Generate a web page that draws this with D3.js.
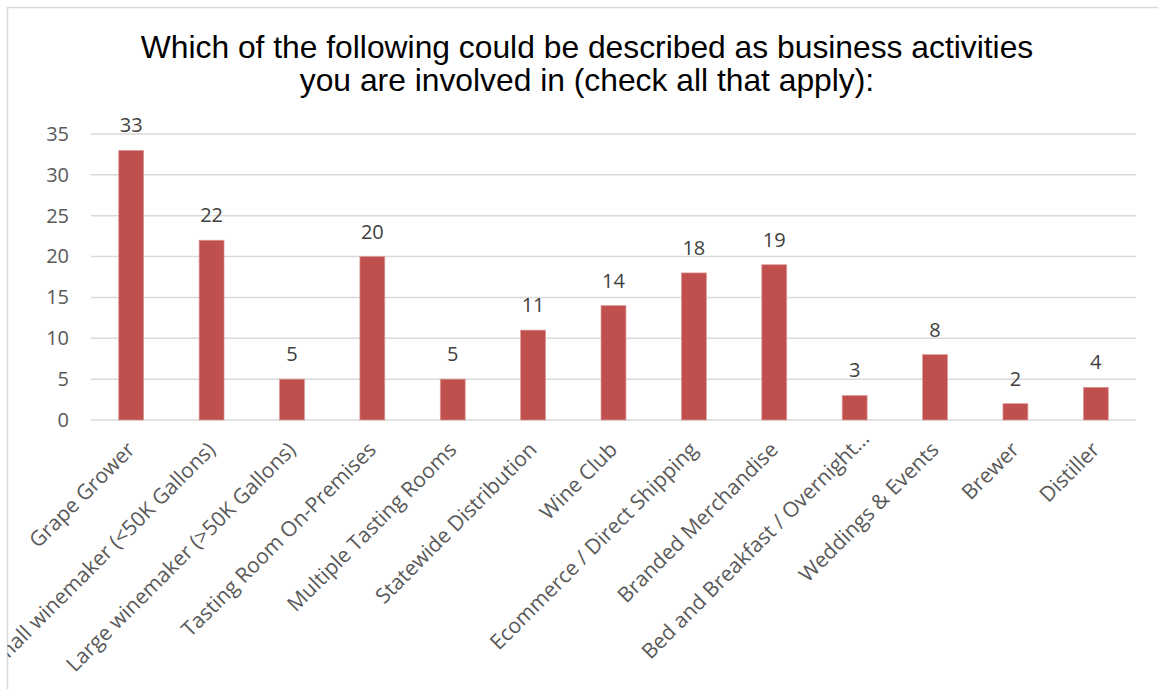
<html>
<head>
<script src="https://d3js.org/d3.v7.min.js"></script>
<style>
  body { margin: 0; background: #fff; }
</style>
</head>
<body>
<script>
// DATA
var categories = ["Grape Grower", "Small winemaker (<50K Gallons)", "Large winemaker (>50K Gallons)",
  "Tasting Room On-Premises", "Multiple Tasting Rooms", "Statewide Distribution", "Wine Club",
  "Ecommerce / Direct Shipping", "Branded Merchandise", "Bed and Breakfast / Overnight\u2026",
  "Weddings & Events", "Brewer", "Distiller"];
var counts = [33, 22, 5, 20, 5, 11, 14, 18, 19, 3, 8, 2, 4];
var yTicks = [0, 5, 10, 15, 20, 25, 30, 35];
var titleLines = ["Which of the following could be described as business activities",
  "you are involved in (check all that apply):"];

var W = 1158, H = 689;
var svg = d3.select("body").append("svg").attr("width", W).attr("height", H);

// chart frame, clipped like the original
svg.append("clipPath").attr("id", "frame")
  .append("rect").attr("x", 7.5).attr("y", 7.5).attr("width", W).attr("height", H);
svg.append("rect").attr("x", 7.5).attr("y", 7.5).attr("width", W).attr("height", H)
  .style("fill", "white").style("stroke", "#d9d9d9").style("stroke-width", 1.5);

var g = svg.append("g").attr("clip-path", "url(#frame)");

// title
g.selectAll("text.title").data(titleLines).enter().append("text")
  .attr("class", "title")
  .attr("x", 587).attr("y", function(d, i) { return 58 + i * 33; })
  .attr("text-anchor", "middle")
  .style("font-family", "Liberation Sans, Arial, sans-serif")
  .style("font-size", "31.8px").style("fill", "#000")
  .text(function(d) { return d; });

// scales
var x = d3.scaleBand().domain(categories).range([91, 1136]).paddingInner(0.69).paddingOuter(0.345);
var y = d3.scaleLinear().domain([0, 35]).range([420, 134]);

// gridlines
g.selectAll("line.grid").data(yTicks).enter().append("line")
  .attr("x1", 91).attr("x2", 1136)
  .attr("y1", function(d) { return y(d); }).attr("y2", function(d) { return y(d); })
  .style("stroke", "#d9d9d9").style("stroke-width", 1.5);

// y axis labels
var yAxis = g.append("g").attr("transform", "translate(69,0)")
  .call(d3.axisLeft(y).tickValues(yTicks).tickSize(0).tickPadding(0));
yAxis.select(".domain").remove();
yAxis.selectAll("text")
  .style("font-family", "Open Sans, sans-serif").style("font-size", "20px").style("fill", "#595959");

// bars
g.selectAll("rect.bar").data(counts).enter().append("rect")
  .attr("class", "bar")
  .attr("x", function(d, i) { return x(categories[i]); })
  .attr("width", x.bandwidth())
  .attr("y", function(d) { return y(d); })
  .attr("height", function(d) { return y(0) - y(d); })
  .style("fill", "#c0504d").style("stroke", "#dd9a98").style("stroke-width", 0.7);

// data labels
g.selectAll("text.val").data(counts).enter().append("text")
  .attr("class", "val")
  .attr("x", function(d, i) { return x(categories[i]) + x.bandwidth() / 2; })
  .attr("y", function(d) { return y(d) - 18; })
  .attr("text-anchor", "middle")
  .style("font-family", "Open Sans, sans-serif").style("font-size", "20px").style("fill", "#404040")
  .text(function(d) { return d; });

// x axis labels, rotated (the truncated one sits a bit higher, like Excel does)
var xAxis = g.append("g").attr("transform", "translate(0,420)")
  .call(d3.axisBottom(x).tickSize(0).tickPadding(0));
xAxis.select(".domain").remove();
xAxis.selectAll("text")
  .attr("text-anchor", "end")
  .attr("dy", 0)
  .attr("transform", function(d) {
    return d.slice(-1) == "\u2026" ? "translate(16,20) rotate(-45)" : "translate(5,31) rotate(-45)";
  })
  .style("font-family", "Open Sans, sans-serif").style("font-size", "21px").style("fill", "#595959");
</script>
</body>
</html>
